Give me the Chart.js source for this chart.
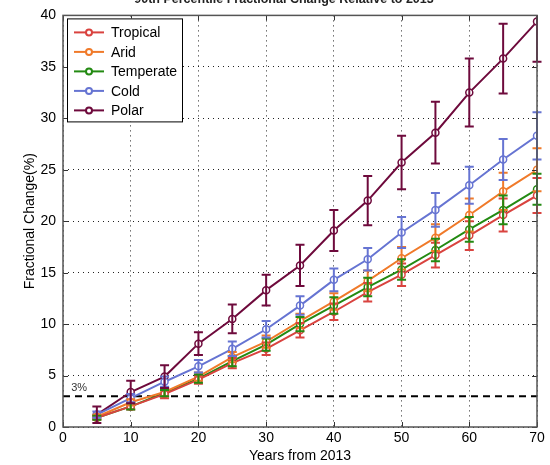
<!DOCTYPE html>
<html>
<head>
<meta charset="utf-8">
<script src="https://cdn.jsdelivr.net/npm/chart.js@4.4.1/dist/chart.umd.min.js"></script>
<style>
  html, body { margin: 0; padding: 0; background: #fff; }
  #wrap { width: 550px; height: 465px; }
</style>
</head>
<body>
<div id="wrap"><canvas id="changeChart" width="550" height="465"></canvas></div>
<script>
// Years after 2013
const years = [5, 10, 15, 20, 25, 30, 35, 40, 45, 50, 55, 60, 65, 70];

// Mean fractional change (%) per climate zone
const tropical = [0.9, 2.0, 3.2, 4.6, 6.2, 7.6, 9.4, 11.2, 13.1, 14.8, 16.7, 18.6, 20.6, 22.5];
const arid = [1.0, 2.4, 3.4, 4.9, 6.8, 8.3, 10.3, 12.2, 14.2, 16.4, 18.4, 20.6, 22.9, 25.0];
const temperate = [0.9, 2.0, 3.3, 4.7, 6.4, 8.0, 10.0, 11.8, 13.6, 15.3, 17.2, 19.2, 21.1, 23.1];
const cold = [1.2, 2.8, 4.4, 5.9, 7.6, 9.5, 11.8, 14.3, 16.3, 18.9, 21.1, 23.5, 26.0, 28.3];
const polar = [1.2, 3.4, 4.9, 8.1, 10.5, 13.3, 15.7, 19.1, 22.0, 25.7, 28.6, 32.5, 35.8, 39.4];

// Half-length of the error bars (%)
const tropicalErr = [0.2, 0.3, 0.4, 0.4, 0.5, 0.6, 0.7, 0.8, 0.9, 1.1, 1.2, 1.4, 1.6, 1.7];
const aridErr = [0.2, 0.3, 0.4, 0.4, 0.5, 0.6, 0.7, 0.8, 1.0, 1.1, 1.3, 1.6, 1.8, 2.1];
const temperateErr = [0.2, 0.3, 0.3, 0.4, 0.5, 0.6, 0.7, 0.8, 0.9, 1.0, 1.1, 1.2, 1.4, 1.5];
const coldErr = [0.3, 0.4, 0.5, 0.6, 0.7, 0.8, 0.9, 1.1, 1.1, 1.5, 1.65, 1.8, 2.0, 2.3];
const polarErr = [0.8, 1.1, 1.1, 1.1, 1.4, 1.5, 2.0, 2.0, 2.4, 2.6, 3.0, 3.3, 3.4, 3.9];

const zoneNames = ["Tropical", "Arid", "Temperate", "Cold", "Polar"];
const zoneColors = ["#d9433f", "#f07a2a", "#238a12", "#6674d2", "#6e0a3c"];

const xTicks = [0, 10, 20, 30, 40, 50, 60, 70];
const yTicks = [0, 5, 10, 15, 20, 25, 30, 35, 40];
const thresholdValue = 3;
const chartTitle = "90th Percentile Fractional Change Relative to 2013";

const seriesValues = [tropical, arid, temperate, cold, polar];
const seriesErrors = [tropicalErr, aridErr, temperateErr, coldErr, polarErr];

const FONT = "'Liberation Sans', Arial, sans-serif";

// vertical error bars with caps, clipped to the axes box
const errorBars = {
  id: "errorBars",
  afterDatasetsDraw(chart) {
    const { ctx, chartArea: a, scales: { x, y } } = chart;
    ctx.save();
    ctx.beginPath();
    ctx.rect(a.left - 6, a.top, a.right - a.left + 12, a.bottom - a.top);
    ctx.clip();
    ctx.lineWidth = 2;
    chart.data.datasets.forEach((ds, i) => {
      ctx.strokeStyle = ds.borderColor;
      ds.data.forEach((pt, j) => {
        const e = seriesErrors[i][j];
        const px = x.getPixelForValue(pt.x);
        const top = y.getPixelForValue(pt.y + e);
        const bot = y.getPixelForValue(pt.y - e);
        ctx.beginPath();
        ctx.moveTo(px, top); ctx.lineTo(px, bot);
        ctx.moveTo(px - 4.5, top); ctx.lineTo(px + 4.5, top);
        ctx.moveTo(px - 4.5, bot); ctx.lineTo(px + 4.5, bot);
        ctx.stroke();
      });
    });
    ctx.restore();
  },
};

// box, inward ticks, 3% line, legend and clipped title
const decorations = {
  id: "decorations",
  beforeDatasetsDraw(chart) {
    const { ctx, chartArea: a, scales: { x, y } } = chart;
    ctx.save();
    const ty = y.getPixelForValue(thresholdValue);
    ctx.strokeStyle = "#000";
    ctx.lineWidth = 2;
    ctx.setLineDash([7, 5]);
    ctx.beginPath();
    ctx.moveTo(a.left, ty); ctx.lineTo(a.right, ty);
    ctx.stroke();
    ctx.setLineDash([]);
    ctx.fillStyle = "#333";
    ctx.font = "11px " + FONT;
    ctx.textAlign = "left";
    ctx.textBaseline = "bottom";
    ctx.fillText(thresholdValue + "%", x.getPixelForValue(1.2), ty - 3);
    ctx.restore();
  },
  afterDraw(chart) {
    const { ctx, chartArea: a, scales: { x, y } } = chart;
    ctx.save();
    // inward tick marks
    ctx.strokeStyle = "#333";
    ctx.lineWidth = 1;
    ctx.beginPath();
    xTicks.forEach(v => {
      const px = Math.round(x.getPixelForValue(v)) + 0.5;
      ctx.moveTo(px, a.top); ctx.lineTo(px, a.top + 5);
      ctx.moveTo(px, a.bottom); ctx.lineTo(px, a.bottom - 5);
    });
    yTicks.forEach(v => {
      const py = Math.round(y.getPixelForValue(v)) + 0.5;
      ctx.moveTo(a.left, py); ctx.lineTo(a.left + 5, py);
      ctx.moveTo(a.right, py); ctx.lineTo(a.right - 5, py);
    });
    ctx.stroke();
    // axes box
    ctx.strokeStyle = "#555";
    ctx.lineWidth = 1.5;
    ctx.strokeRect(a.left, a.top, a.right - a.left, a.bottom - a.top);

    // legend
    const lx = a.left + 4, ly = a.top + 3, lw = 115, lh = 103;
    ctx.fillStyle = "#fff";
    ctx.fillRect(lx, ly, lw, lh);
    ctx.strokeStyle = "#000";
    ctx.lineWidth = 1;
    ctx.strokeRect(lx + 0.5, ly + 0.5, lw, lh);
    ctx.font = "14px " + FONT;
    ctx.textAlign = "left";
    ctx.textBaseline = "middle";
    chart.data.datasets.forEach((ds, i) => {
      const rowY = ly + 14 + i * 19.5;
      ctx.strokeStyle = ds.borderColor;
      ctx.lineWidth = 2;
      ctx.beginPath();
      ctx.moveTo(lx + 7, rowY); ctx.lineTo(lx + 37, rowY);
      ctx.stroke();
      ctx.fillStyle = "#fff";
      ctx.beginPath();
      ctx.arc(lx + 22, rowY, 3, 0, Math.PI * 2);
      ctx.fill(); ctx.stroke();
      ctx.fillStyle = "#000";
      ctx.fillText(ds.label, lx + 44, rowY + 1);
    });

    // title, mostly above the top edge
    ctx.fillStyle = "#222";
    ctx.font = "bold 12.5px " + FONT;
    ctx.textAlign = "center";
    ctx.textBaseline = "middle";
    ctx.fillText(chartTitle, 284, -0.5);
    ctx.restore();
  },
};

const ctx = document.getElementById("changeChart").getContext("2d");
new Chart(ctx, {
  type: "line",
  data: {
    datasets: zoneNames.map((name, i) => ({
      label: name,
      data: years.map((yr, j) => ({ x: yr, y: seriesValues[i][j] })),
      borderColor: zoneColors[i],
      backgroundColor: "#fff",
      pointBackgroundColor: "#fff",
      pointBorderColor: zoneColors[i],
      pointRadius: 3.5,
      pointBorderWidth: 1.5,
      borderWidth: 2,
      tension: 0,
    })),
  },
  options: {
    responsive: false,
    animation: false,
    layout: { padding: { top: 15, right: 13, left: 22, bottom: 0 } },
    plugins: {
      legend: { display: false },
      tooltip: { enabled: false },
    },
    scales: {
      x: {
        type: "linear",
        min: 0,
        max: 70,
        afterBuildTicks: (s) => { s.ticks = xTicks.map(v => ({ value: v })); },
        afterFit: (s) => { s.height = 38; },
        grid: { color: "#222", lineWidth: 1, drawTicks: false },
        border: { display: false, dash: [1, 4] },
        ticks: { color: "#000", padding: 3, font: { family: FONT, size: 14 }, maxRotation: 0 },
        title: { display: true, text: "Years from 2013", color: "#000", padding: 0, font: { family: FONT, size: 14 } },
      },
      y: {
        type: "linear",
        min: 0,
        max: 40,
        afterBuildTicks: (s) => { s.ticks = yTicks.map(v => ({ value: v })); },
        afterFit: (s) => { s.width = 41; },
        grid: { color: "#222", lineWidth: 1, drawTicks: false },
        border: { display: false, dash: [1, 4] },
        ticks: { color: "#000", padding: 7, font: { family: FONT, size: 14 } },
        title: { display: true, text: "Fractional Change(%)", color: "#000", padding: 0, font: { family: FONT, size: 14 } },
      },
    },
  },
  plugins: [decorations, errorBars],
});
</script>
</body>
</html>
